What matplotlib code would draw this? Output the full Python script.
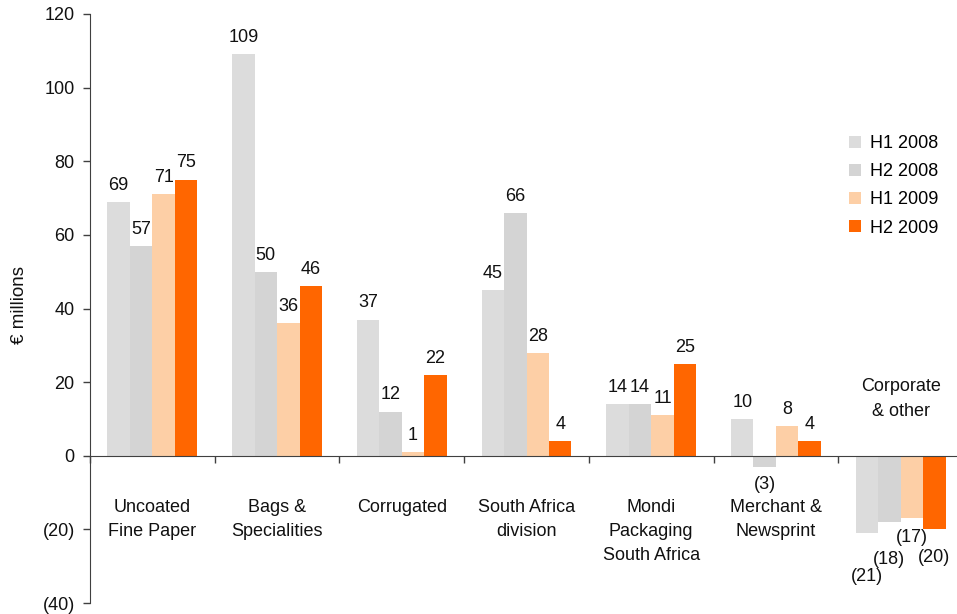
import matplotlib
matplotlib.use("Agg")
import matplotlib.pyplot as plt
from matplotlib.patches import Patch
import numpy as np

plt.rcParams['font.family'] = ['Liberation Sans', 'DejaVu Sans']

categories = ["Uncoated\nFine Paper", "Bags &\nSpecialities", "Corrugated",
              "South Africa\ndivision", "Mondi\nPackaging\nSouth Africa",
              "Merchant &\nNewsprint", "Corporate\n& other"]
series = ["H1 2008", "H2 2008", "H1 2009", "H2 2009"]
h1_2008 = [69, 109, 37, 45, 14, 10, -21]
h2_2008 = [57, 50, 12, 66, 14, -3, -18]
h1_2009 = [71, 36, 1, 28, 11, 8, -17]
h2_2009 = [75, 46, 22, 4, 25, 4, -20]
values = [h1_2008, h2_2008, h1_2009, h2_2009]
colors = ["#DCDCDC", "#D4D4D4", "#FDCFA6", "#FF6600"]
yticks = [-40, -20, 0, 20, 40, 60, 80, 100, 120]

# extra downward offsets (points) for negative labels of the last group
neg_offsets = {(1, 5): 13, (0, 6): 31, (1, 6): 27, (2, 6): 14, (3, 6): 20}

fig = plt.figure(figsize=(9.57, 6.14), dpi=100)
ax = fig.add_axes([90/957, 11/614, 873/957, 589/614])

n = len(categories)
x = np.arange(n)
bw = 0.18
fs = 13
for i, (vals, col) in enumerate(zip(values, colors)):
    xs = x + (i - 1.5) * bw
    ax.bar(xs, vals, width=bw, color=col, edgecolor='none', zorder=2)
    for j, (xx, v) in enumerate(zip(xs, vals)):
        if v >= 0:
            ax.annotate(str(v), (xx, v), xytext=(0, 12), textcoords='offset points',
                        ha='center', va='center', fontsize=fs, color='#111111')
        else:
            off = neg_offsets.get((i, j), 13)
            ax.annotate("(%d)" % abs(v), (xx, v), xytext=(0, -off), textcoords='offset points',
                        ha='center', va='center', fontsize=fs, color='#111111')

for j, c in enumerate(categories):
    if j == n - 1:
        ax.text(x[j], 21.0, c, ha='center', va='top', fontsize=fs, linespacing=1.55, color='#111111')
    else:
        ax.text(x[j], -11.8, c, ha='center', va='top', fontsize=fs, linespacing=1.55, color='#111111')

ax.set_xlim(-0.5, n - 0.5)
ax.set_ylim(-40, 120)
ax.set_yticks(yticks)
ax.set_yticklabels([str(t) if t >= 0 else "(%d)" % abs(t) for t in yticks], fontsize=fs, color='#111111')
ax.set_xticks(np.arange(-0.5, n, 1.0))
ax.set_xticklabels([])
ax.tick_params(axis='x', direction='out', length=5, color='#404040', width=1)
ax.tick_params(axis='y', direction='out', length=5, color='#404040', width=1, pad=6)
for s in ['top', 'right']:
    ax.spines[s].set_visible(False)
ax.spines['bottom'].set_position(('data', 0))
ax.spines['bottom'].set_color('#404040')
ax.spines['left'].set_color('#404040')

fig.text(20/957, 1 - 305/614, "€ millions", rotation=90, ha='center', va='center', fontsize=13.5, color='#111111')

handles = [Patch(facecolor=c, edgecolor='none') for c in colors]
leg = fig.legend(handles, series, loc='upper left', bbox_to_anchor=(849/957, 1 - 135/614),
                 frameon=False, fontsize=fs, handlelength=0.65, handleheight=0.65,
                 handletextpad=0.5, labelspacing=0.62, borderaxespad=0, borderpad=0)

fig.savefig("out.png", dpi=100)
